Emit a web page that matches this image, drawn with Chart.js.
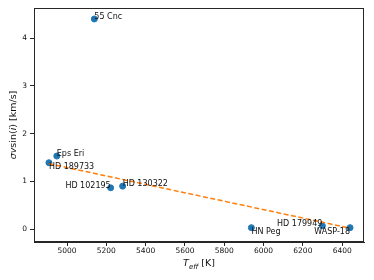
<!DOCTYPE html>
<html>
<head>
<meta charset="utf-8">
<script src="https://cdn.jsdelivr.net/npm/chart.js@4.4.0/dist/chart.umd.min.js"></script>
<style>
  html, body { margin: 0; padding: 0; background: #fff; }
  #wrap { width: 374px; height: 280px; position: relative; }
</style>
</head>
<body>
<div id="wrap"><canvas id="myChart"></canvas></div>
<script>
// stars: name, Teff [K], sigma v sin(i) [km/s]
var starNames = ['55 Cnc', 'Eps Eri', 'HD 189733', 'HD 102195', 'HD 130322', 'HN Peg', 'HD 179949', 'WASP-18'];
var teff = [5139, 4948, 4908, 5222, 5283, 5938, 6299, 6440];
var vsini = [4.40, 1.53, 1.39, 0.865, 0.90, 0.03, 0.07, 0.03];

// dashed fit line
var fitTeff = [4908, 6440];
var fitV = [1.37, 0.02];

var xTicks = [5000, 5200, 5400, 5600, 5800, 6000, 6200, 6400];
var yTicks = [0, 1, 2, 3, 4];

// where each label sits relative to its point
var labelPos = ['rb', 'rb', 'rt', 'lb', 'rb', 'rt', 'lb', 'lt'];

var FONT = '"DejaVu Sans", sans-serif';

var scatterPts = teff.map(function(t, i) { return {x: t, y: vsini[i]}; });
var fitPts = fitTeff.map(function(t, i) { return {x: t, y: fitV[i]}; });

var extras = {
  id: 'extras',
  afterDatasetsDraw: function(chart) {
    var ctx = chart.ctx;
    var a = chart.chartArea;
    var xs = chart.scales.x, ys = chart.scales.y;
    ctx.save();
    // frame on all four sides
    ctx.strokeStyle = '#262626';
    ctx.lineWidth = 1;
    ctx.strokeRect(a.left + 0.5, a.top + 0.5, a.right - a.left - 1, a.bottom - a.top - 1);

    // point labels
    ctx.fillStyle = '#111';
    ctx.font = '8px ' + FONT;
    for (var i = 0; i < starNames.length; i++) {
      var px = xs.getPixelForValue(teff[i]);
      var py = ys.getPixelForValue(vsini[i]);
      var p = labelPos[i];
      ctx.textAlign = p[0] === 'r' ? 'left' : 'right';
      ctx.textBaseline = p[1] === 'b' ? 'alphabetic' : 'top';
      ctx.fillText(starNames[i], px, py);
    }

    // axis titles
    ctx.fillStyle = '#111';
    ctx.textBaseline = 'alphabetic';
    var cx = (a.left + a.right) / 2;
    var ty = 266;
    ctx.font = 'italic 9.5px ' + FONT;
    var wT = ctx.measureText('T').width;
    ctx.font = 'italic 7px ' + FONT;
    var wE = ctx.measureText('eff').width;
    ctx.font = '9.5px ' + FONT;
    var wK = ctx.measureText(' [K]').width;
    var sx = cx - (wT + wE + wK) / 2;
    ctx.textAlign = 'left';
    ctx.font = 'italic 9.5px ' + FONT;
    ctx.fillText('T', sx, ty);
    ctx.font = 'italic 7px ' + FONT;
    ctx.fillText('eff', sx + wT, ty + 2.5);
    ctx.font = '9.5px ' + FONT;
    ctx.fillText(' [K]', sx + wT + wE, ty);

    // y title, rotated
    var cy = (a.top + a.bottom) / 2;
    var parts = [['italic', 'σv'], ['', 'sin('], ['italic', 'i'], ['', ') [km/s]']];
    var total = 0;
    parts.forEach(function(pt) {
      ctx.font = (pt[0] ? pt[0] + ' ' : '') + '9.5px ' + FONT;
      total += ctx.measureText(pt[1]).width;
    });
    ctx.translate(16, cy);
    ctx.rotate(-Math.PI / 2);
    var off = -total / 2;
    parts.forEach(function(pt) {
      ctx.font = (pt[0] ? pt[0] + ' ' : '') + '9.5px ' + FONT;
      ctx.fillText(pt[1], off, 0);
      off += ctx.measureText(pt[1]).width;
    });
    ctx.restore();
  }
};

var ctx = document.getElementById('myChart').getContext('2d');
var myChart = new Chart(ctx, {
  type: 'scatter',
  data: {
    datasets: [{
      label: 'stars',
      data: scatterPts,
      backgroundColor: '#1f77b4',
      borderColor: '#1f77b4',
      pointRadius: 3,
      pointHoverRadius: 3,
      order: 2
    }, {
      type: 'line',
      label: 'fit',
      data: fitPts,
      borderColor: '#ff7f0e',
      borderWidth: 1.5,
      borderDash: [5, 2.5],
      pointRadius: 0,
      fill: false,
      order: 1
    }]
  },
  options: {
    responsive: true,
    maintainAspectRatio: false,
    animation: false,
    layout: { padding: { top: 8, right: 10, left: 0, bottom: 0 } },
    plugins: { legend: { display: false }, tooltip: { enabled: false } },
    scales: {
      x: {
        type: 'linear',
        min: 4832,
        max: 6511,
        afterFit: function(s) { s.height = 38; },
        afterBuildTicks: function(s) { s.ticks = xTicks.map(function(v) { return {value: v}; }); },
        grid: { drawOnChartArea: false, drawTicks: true, tickLength: 4, color: '#262626' },
        border: { display: true, color: '#262626', width: 1 },
        ticks: {
          font: { family: FONT, size: 7.5 }, color: '#111', padding: 1, maxRotation: 0, includeBounds: false,
          callback: function(v) { return String(v); }
        }
      },
      y: {
        type: 'linear',
        min: -0.27,
        max: 4.63,
        afterFit: function(s) { s.width = 34; },
        afterBuildTicks: function(s) { s.ticks = yTicks.map(function(v) { return {value: v}; }); },
        grid: { drawOnChartArea: false, drawTicks: true, tickLength: 4, color: '#262626' },
        border: { display: true, color: '#262626', width: 1 },
        ticks: {
          font: { family: FONT, size: 7.5 }, color: '#111', padding: 3, includeBounds: false,
          callback: function(v) { return String(v); }
        }
      }
    }
  },
  plugins: [extras]
});
</script>
</body>
</html>
